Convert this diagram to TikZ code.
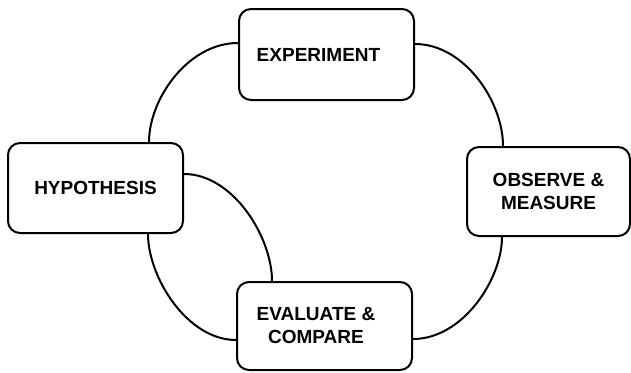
\documentclass[tikz,border=0pt]{standalone}
\usepackage{fontspec}
\setmainfont{Liberation Sans}
\begin{document}
\begin{tikzpicture}[x=1pt,y=-1pt,
  stage/.style={draw, line width=2pt, rounded corners=12pt, align=center,
    inner sep=0pt, font=\fontsize{19}{23}\selectfont\bfseries},
  link/.style={line width=2pt}]
  \useasboundingbox (0,0) rectangle (631,372);

  % process stages
  \node[stage, minimum width=175pt, minimum height=91pt] (exp) at (326.5,54.5) {EXPERIMENT\kern16pt};
  \node[stage, minimum width=175pt, minimum height=90pt] (hyp) at (95.5,188) {HYPOTHESIS};
  \node[stage, minimum width=163pt, minimum height=89pt, text depth=0pt] (obs) at (548.5,191.5) {OBSERVE \&\\MEASURE};
  \node[stage, minimum width=175pt, minimum height=88pt] (eva) at (324.5,326) {EVALUATE \&\kern17pt\\COMPARE\kern17pt};

  % cycle links
  \draw[link] ([yshift=11.5pt]exp.west) .. controls +(-50,0) and +(0,-43) .. ([xshift=53.5pt]hyp.north);
  \draw[link] ([yshift=10.5pt]exp.east) .. controls +(49,0) and +(0,-45) .. ([xshift=-45.5pt]obs.north);
  \draw[link] ([xshift=-46.5pt]obs.south) .. controls +(0,42) and +(50,0) .. ([yshift=-13pt]eva.east);
  \draw[link] ([xshift=52.5pt]hyp.south) .. controls +(0,43) and +(-49,0) .. ([yshift=-14pt]eva.west);
  \draw[link] ([yshift=14pt]hyp.east) .. controls +(49,0) and +(0,-44) .. ([xshift=-52.5pt]eva.north);
\end{tikzpicture}
\end{document}
